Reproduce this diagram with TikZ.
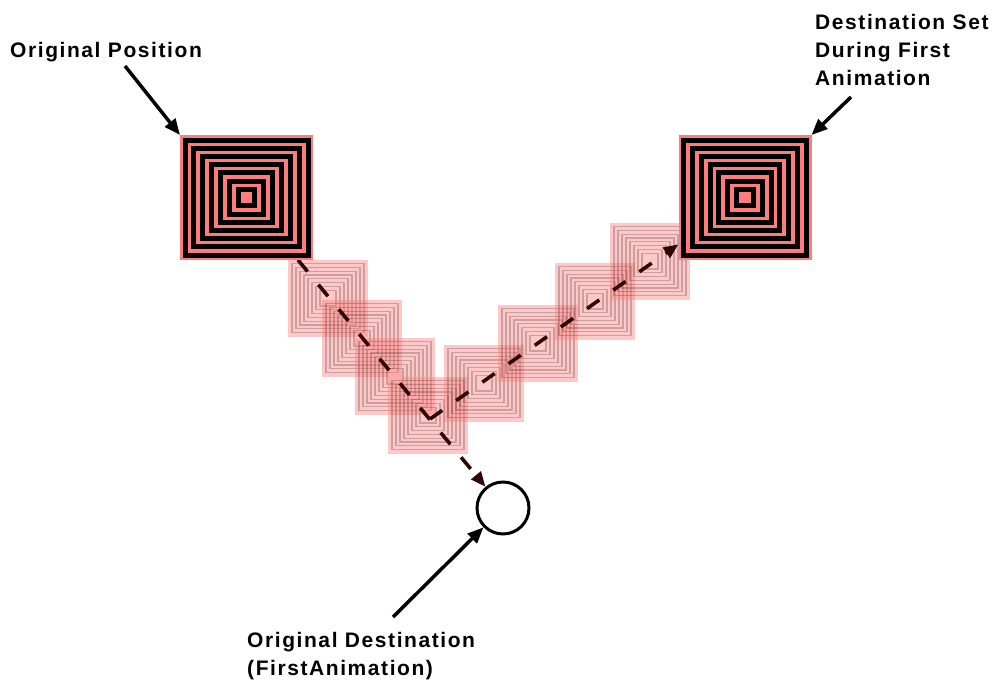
\documentclass[tikz,border=0pt]{standalone}
\usepackage{fontspec}
\newfontfamily\lblfont{Liberation Sans}[LetterSpace=7.5]
\usetikzlibrary{arrows.meta}
\definecolor{sqpink}{RGB}{255,124,124}
\definecolor{dashcol}{RGB}{50,5,5}
\tikzset{
  bigsq/.style={rectangle, minimum width=133pt, minimum height=125pt, inner sep=0pt, outer sep=0pt},
  destcirc/.style={circle, draw, line width=3pt, minimum size=52pt, inner sep=0pt},
  lbl/.style={font=\lblfont\bfseries\fontsize{21}{28}\selectfont, inner sep=0pt, align=left},
  solidarrow/.style={line width=3.5pt, -{Triangle[length=16pt,width=13pt]}},
  dasharrow/.style={draw=dashcol, line width=3.6pt, dash pattern=on 15pt off 17pt, -{Triangle[length=15pt,width=12pt,fill=dashcol]}},
  ghostfill/.style={fill=sqpink, fill opacity=0.42},
  ghostring/.style={draw=black, draw opacity=0.2, line width=1.2pt},
  bigring/.style={draw=black, line width=5pt}
}
\begin{document}
\begin{tikzpicture}[x=1pt,y=-1pt]
\path[use as bounding box] (0,0) rectangle (995,680);
% placeholders
\node[bigsq] (lsq) at (246.5,197.5) {};
\node[bigsq] (rsq) at (745,197.5) {};
\node[destcirc] (circ) at (503,508) {};
\coordinate (kink) at (430,419);
% ghost squares
\foreach \cx/\cy in {328/298, 362/338, 395/376, 428/415, 484/383, 538/343, 595/301, 650/261} {
  \begin{scope}[shift={(\cx,\cy)}]
    \fill[ghostfill] (-40,-38.5) rectangle (40,38.5);
    \foreach \k in {0,...,7}
      \draw[ghostring] ({-36+4*\k},{-34.5+3.8*\k}) rectangle ({36-4*\k},{34.5-3.8*\k});
  \end{scope}
}
% dashed paths
\draw[dasharrow] (lsq) -- (circ);
\draw[dasharrow] (kink) -- (rsq);
% big squares
\foreach \n in {lsq,rsq} {
  \fill[sqpink] (\n.north west) rectangle (\n.south east);
  \begin{scope}[shift={(\n.center)}]
    \foreach \k in {0,...,6}
      \draw[bigring] ({-61.5+8.87*\k},{-57.5+8.2*\k}) rectangle ({61.5-8.87*\k},{57.5-8.2*\k});
  \end{scope}
}
% labels
\node[lbl, anchor=base west] (l1) at (10,57) {Original Position};
\node[lbl, anchor=north west] (l2) at (815,14) {Destination Set\\During First\\Animation};
\node[lbl, anchor=north west] (l3) at (247,632) {Original Destination\\(FirstAnimation)};
% solid arrows
\coordinate (s1) at (125,66);
\coordinate (s2) at (851,97);
\coordinate (s3) at (393,617);
\draw[solidarrow] (s1) -- (lsq.north west);
\draw[solidarrow] (s2) -- (rsq.north east);
\draw[solidarrow] (s3) -- (circ);
\end{tikzpicture}
\end{document}
